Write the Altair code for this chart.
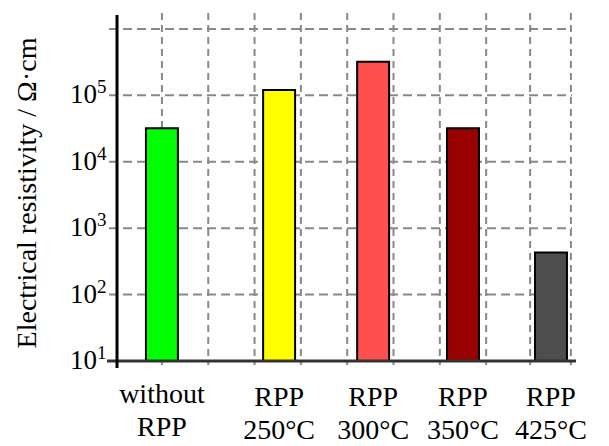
import altair as alt
import pandas as pd

# ---- data ----
categories = ["without\nRPP", "RPP\n250°C", "RPP\n300°C", "RPP\n350°C", "RPP\n425°C"]
resistivity = [3.2e4, 1.2e5, 3.2e5, 3.2e4, 4.3e2]
bar_colors = ["#00ff00", "#ffff00", "#ff5050", "#990000", "#4d4d4d"]
bar_pos = [0, 2.53, 4.56, 6.5, 8.4]
grid_x = [0, 1, 2, 3, 4, 5, 6, 7, 7.95, 8.83]
grid_y = [10, 100, 1000, 1e4, 1e5, 1e6]
tick_vals = [10, 100, 1000, 1e4, 1e5]
tick_exp = ["1", "2", "3", "4", "5"]
y_title = "Electrical resistivity / Ω·cm"

W, H = 459, 346
FONT = "Times New Roman, Liberation Serif, DejaVu Serif, serif"
BAR_HALF = 0.345

xscale = alt.Scale(domain=[-0.97, 8.94], nice=False, zero=False)
yscale = alt.Scale(type="log", domain=[10, 1.62e6], nice=False)

bars_df = pd.DataFrame({
    "cat": categories,
    "val": resistivity,
    "col": bar_colors,
    "x0": [p - BAR_HALF for p in bar_pos],
    "x1": [p + BAR_HALF for p in bar_pos],
    "pos": bar_pos,
})
bars_df["base"] = 10
vg_df = pd.DataFrame({"gx": grid_x})
hg_df = pd.DataFrame({"gy": grid_y})
tick_df = pd.DataFrame({"v": tick_vals, "e": tick_exp})
tick_df["ten"] = "10"
lab1_df = bars_df.iloc[:1]
lab2_df = bars_df.iloc[1:]

grid_color = "#888888"

vgrid = alt.Chart(vg_df).mark_rule(color=grid_color, strokeWidth=2, strokeDash=[7, 5]).encode(
    x=alt.X("gx:Q", scale=xscale, axis=None),
    y=alt.value(-2),
    y2=alt.value(H + 4),
)

hgrid = alt.Chart(hg_df).mark_rule(color=grid_color, strokeWidth=2, strokeDash=[9, 5]).encode(
    y=alt.Y("gy:Q", scale=yscale, axis=None),
    x=alt.value(-8),
    x2=alt.value(455),
)

bars = alt.Chart(bars_df).mark_bar(stroke="black", strokeWidth=2).encode(
    x=alt.X("x0:Q", scale=xscale, axis=None),
    x2="x1:Q",
    y=alt.Y("val:Q", scale=yscale, axis=None),
    y2="base:Q",
    color=alt.Color("col:N", scale=None, legend=None),
)

xaxis_line = alt.Chart(bars_df.iloc[:1]).mark_rule(color="#333333", strokeWidth=3).encode(
    y=alt.value(H),
    x=alt.value(-10),
    x2=alt.value(W),
)

yaxis_line = alt.Chart(bars_df.iloc[:1]).mark_rule(color="black", strokeWidth=3).encode(
    x=alt.value(0),
    y=alt.value(0),
    y2=alt.value(H + 7),
)

ten = alt.Chart(tick_df).mark_text(font=FONT, fontSize=27, align="right", baseline="alphabetic", dy=8, color="black").encode(
    y=alt.Y("v:Q", scale=yscale, axis=None),
    x=alt.value(-20),
    text="ten:N",
)

expo = alt.Chart(tick_df).mark_text(font=FONT, fontSize=19, align="left", baseline="alphabetic", dy=-2, color="black").encode(
    y=alt.Y("v:Q", scale=yscale, axis=None),
    x=alt.value(-20),
    text="e:N",
)

title = alt.Chart(bars_df.iloc[:1]).mark_text(font=FONT, fontSize=28, angle=270, align="center", baseline="middle", color="black", text=y_title).encode(
    x=alt.value(-89),
    y=alt.value(178),
)

lab1 = alt.Chart(lab1_df).mark_text(font=FONT, fontSize=28, align="center", baseline="alphabetic", lineBreak="\n", lineHeight=33, color="black").encode(
    x=alt.X("pos:Q", scale=xscale, axis=None),
    y=alt.value(388),
    text="cat:N",
)

lab2 = alt.Chart(lab2_df).mark_text(font=FONT, fontSize=28, align="center", baseline="alphabetic", lineBreak="\n", lineHeight=33, color="black").encode(
    x=alt.X("pos:Q", scale=xscale, axis=None),
    y=alt.value(391),
    text="cat:N",
)

chart = alt.layer(vgrid, hgrid, bars, xaxis_line, yaxis_line, ten, expo, title, lab1, lab2).properties(
    width=W,
    height=H,
    autosize=alt.AutoSizeParams(type="none"),
    padding={"left": 109, "top": 7, "right": 25, "bottom": 85},
    background="white",
).configure_view(stroke=None)

chart.save("out.html", embed_options={"renderer": "svg", "actions": False})
